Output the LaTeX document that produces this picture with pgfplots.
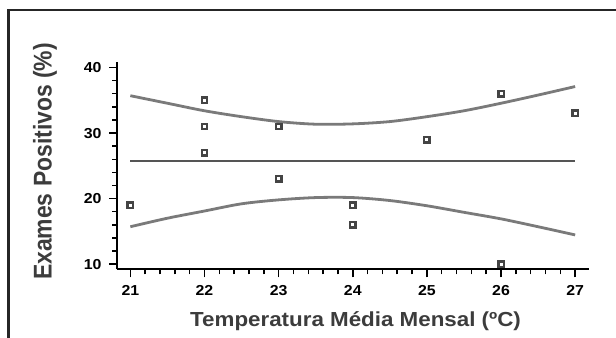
\documentclass[border=0pt]{standalone}
\usepackage{fontspec}
\setmainfont{Liberation Sans}
\newfontfamily\wide{Liberation Sans}[FakeStretch=1.1]
\usepackage{graphicx}
\usepackage{pgfplots}
\pgfplotsset{compat=1.18}
\definecolor{curvegray}{HTML}{7A7A7A}
\definecolor{meangray}{HTML}{555555}
\definecolor{markgray}{HTML}{444444}
\definecolor{labelgray}{HTML}{3C3C3C}
\begin{document}
\begin{tikzpicture}[x=1bp,y=1bp]
\path[use as bounding box] (0,0) rectangle (616,-337);
\draw[line width=2.5bp, black!85] (8.6,-345) -- (8.6,-10) -- (625,-10);
\begin{axis}[
  at={(117bp,-269.3bp)}, anchor=south west,
  scale only axis, width=471.5bp, height=207bp,
  xmin=20.82, xmax=27.18, ymin=9.2, ymax=40.8,
  axis x line*=bottom, axis y line*=left,
  axis line style={line width=2.2bp, black, -},
  xtick={21,22,23,24,25,26,27}, ytick={10,20,30,40},
  minor x tick num=4, minor y tick num=4,
  tick align=outside, major tick length=8bp, minor tick length=5bp,
  every tick/.style={black, line width=1.5bp},
  tick label style={font=\wide\bfseries\fontsize{14.5}{14.5}\selectfont},
  xticklabel style={yshift=-5bp},
  yticklabel style={xshift=-4bp},
  /pgf/number format/assume math mode=true,
  xlabel={Temperatura Média Mensal (ºC)},
  ylabel={\scalebox{1}[1.12]{Exames Positivos (\%)}},
  xlabel style={font=\wide\bfseries\fontsize{20.4}{20.4}\selectfont, text=labelgray,
    at={(axis description cs:0.506,0)}, anchor=base, yshift=-56.7bp},
  ylabel style={font=\bfseries\fontsize{23}{23}\selectfont, text=labelgray,
    at={(axis description cs:-0.1527,0.521)}, anchor=center},
  clip=false,
]
\addplot[meangray, line width=2.2bp] coordinates {(21,25.75) (27,25.75)};
\addplot[curvegray, line width=2.8bp, smooth] coordinates {(21,35.7) (21.5,34.55) (22,33.4) (22.5,32.5) (23,31.75) (23.5,31.35) (24,31.4) (24.5,31.75) (25,32.5) (25.5,33.4) (26,34.55) (26.5,35.8) (27,37.1)};
\addplot[curvegray, line width=2.8bp, smooth] coordinates {(21,15.7) (21.5,17.0) (22,18.1) (22.5,19.2) (23,19.8) (23.5,20.15) (24,20.15) (24.5,19.7) (25,18.9) (25.5,17.9) (26,16.9) (26.5,15.7) (27,14.45)};
\addplot[only marks, mark=square*, mark size=2.7bp, mark options={draw=markgray, fill=white, line width=2.4bp}] coordinates {
(21,19) (22,35) (22,31) (22,27) (23,31) (23,23) (24,19) (24,16) (25,29) (26,36) (26,10) (27,33)};
\end{axis}
\end{tikzpicture}
\end{document}
